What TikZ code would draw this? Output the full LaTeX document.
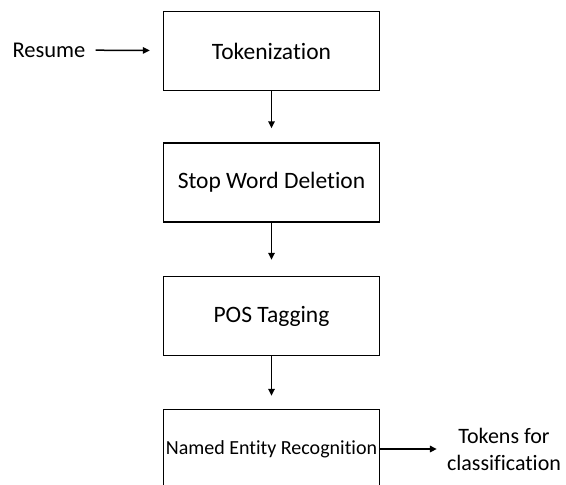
\documentclass[tikz,border=0pt]{standalone}
\usepackage{fontspec}
\setmainfont{Carlito}[Ligatures=NoCommon]
\usetikzlibrary{arrows.meta}

\begin{document}
\begin{tikzpicture}[x=1pt,y=-1pt,
    stage/.style={draw,line width=1.4pt,minimum width=216pt,minimum height=79pt,
      font=\fontsize{23.5}{27}\selectfont},
    plain/.style={inner sep=0pt,align=center,font=\fontsize{22.5}{27}\selectfont},
    flow/.style={-{Triangle[length=7pt,width=6.5pt]},line width=1.5pt,shorten >=14pt}]
  \useasboundingbox (0,0) rectangle (566,485);
  \clip (0,0) rectangle (566,485);

  \node[plain] (resume) at (49,50) {Resume};
  \node[stage] (tok) at (271.5,51) {Tokenization};
  \node[stage] (stop) at (271.5,182.5) {Stop Word Deletion};
  \node[stage] (pos) at (271.5,316) {POS Tagging};
  \node[stage,inner xsep=1pt,font=\fontsize{20}{24}\selectfont] (ner) at (271.5,449) {Named Entity Recognition};
  \node[plain,font=\fontsize{22}{27}\selectfont] (out) at (504,449) {Tokens for\\classification};

  \draw[flow,shorten <=10pt,shorten >=13pt] (resume) -- (tok);
  \draw[flow] (tok) -- (stop);
  \draw[flow,shorten >=16pt] (stop) -- (pos);
  \draw[flow,shorten >=13pt] (pos) -- (ner);
  \draw[flow,shorten >=10pt] (ner) -- (out);
\end{tikzpicture}
\end{document}
